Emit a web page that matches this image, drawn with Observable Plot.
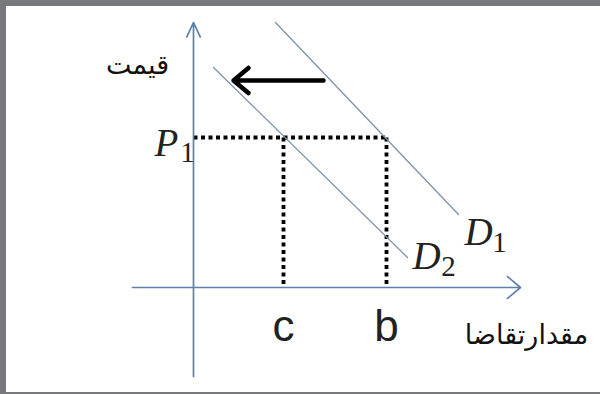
<!DOCTYPE html>
<html><head><meta charset="utf-8">
<script src="https://cdn.jsdelivr.net/npm/d3@7"></script>
<script src="https://cdn.jsdelivr.net/npm/@observablehq/plot@0.6"></script>
<style>
body{margin:0;background:#fff}
#chart{position:relative;width:600px;height:394px}
#chart svg{display:block}
#chart::after{content:"";position:absolute;left:0;top:0;right:0;bottom:0;border-top:6px solid #78797d;border-left:6px solid #78797d;border-bottom:2px solid #78797d;pointer-events:none}
</style></head><body><div id="chart"></div>
<script>
// Conceptual units: quantity (x) and price (y), origin at the axes crossing
const priceP1 = 15;
const quantityC = 9.0;
const quantityB = 19.3;
const demandD1 = [{q: 8.2, p: 26.5}, {q: 26.5, p: 7.3}];
const demandD2 = [{q: 2.0, p: 22.0}, {q: 21.4, p: 3.0}];
const shiftArrow = [{q1: 13.0, q2: 4.0, p: 20.7}];
const xAxisSpan = [-6.1, 32.7];
const yAxisSpan = [-8.9, 26.5];
const priceTitle = "قیمت";
const quantityTitle = "مقدارتقاضا";
const tickLabels = [{q: quantityC, label: "c"}, {q: quantityB, label: "b"}];
const curveLabels = [
  {q: -2.7, p: 13.2, main: "P", sq: -0.6, sp: 12.6, sub: "1"},
  {q: 28.5, p: 4.3, main: "D", sq: 30.6, sp: 3.6, sub: "1"},
  {q: 23.3, p: 1.9, main: "D", sq: 25.5, sp: 1.2, sub: "2"}
];

const axisColor = "#5b80ad";
const curveColor = "#7f93a8";

const dotted = [
  {q1: 0, p1: priceP1, q2: quantityB, p2: priceP1},
  {q1: quantityC, p1: priceP1, q2: quantityC, p2: 0},
  {q1: quantityB, p1: priceP1, q2: quantityB, p2: 0}
];

const plot = Plot.plot({
  width: 600,
  height: 394,
  margin: 0,
  x: {domain: [-19.3, 40.7], range: [0, 600], axis: null},
  y: {domain: [-10.7, 28.7], range: [394, 0], axis: null},
  style: {background: "#fff"},
  marks: [
    Plot.link(dotted, {x1: "q1", y1: "p1", x2: "q2", y2: "p2", stroke: "#000", strokeWidth: 3.8, strokeDasharray: "4,3.5", strokeLinecap: "butt"}),
    Plot.line(demandD1, {x: "q", y: "p", stroke: curveColor, strokeWidth: 1.3}),
    Plot.line(demandD2, {x: "q", y: "p", stroke: curveColor, strokeWidth: 1.3}),
    Plot.arrow([0], {x1: xAxisSpan[0], x2: xAxisSpan[1], y1: 0, y2: 0, stroke: axisColor, strokeWidth: 1.7, headLength: 15, headAngle: 80}),
    Plot.arrow([0], {x1: 0, x2: 0, y1: yAxisSpan[0], y2: yAxisSpan[1], stroke: axisColor, strokeWidth: 1.7, headLength: 14, headAngle: 50}),
    Plot.arrow(shiftArrow, {x1: "q1", x2: "q2", y1: "p", y2: "p", stroke: "#000", strokeWidth: 4.5, headLength: 6.5, headAngle: 80}),
    Plot.text(tickLabels, {x: "q", y: -5.3, text: "label", fontSize: 44, fontFamily: "Liberation Sans", fill: "#222", lineAnchor: "bottom", ariaLabel: "narrow"}),
    Plot.text(curveLabels, {x: "q", y: "p", text: "main", fontSize: 39, fontFamily: "Liberation Serif", fontStyle: "italic", fill: "#222", lineAnchor: "bottom", ariaLabel: "narrow"}),
    Plot.text(curveLabels, {x: "sq", y: "sp", text: "sub", fontSize: 29, fontFamily: "Liberation Serif", fill: "#222", lineAnchor: "bottom", ariaLabel: "narrow"}),
    Plot.text([priceTitle], {x: -5.6, y: 22.2, text: d => d, fontSize: 27, fontFamily: "DejaVu Sans", fill: "#111", lineAnchor: "middle", ariaLabel: "arabic"}),
    Plot.text([quantityTitle], {x: 33.3, y: -4.8, text: d => d, fontSize: 27, fontFamily: "DejaVu Sans", fill: "#111", lineAnchor: "middle", ariaLabel: "arabic"})
  ]
});
document.getElementById("chart").appendChild(plot);
function squeeze(selector, sx) {
  plot.querySelectorAll(selector).forEach(t => {
    const tr = t.getAttribute("transform");
    if (tr) t.setAttribute("transform", tr + ` scale(${sx},1)`);
    else {
      const x = +t.getAttribute("x") || 0, y = +t.getAttribute("y") || 0;
      t.removeAttribute("x"); t.removeAttribute("y");
      t.setAttribute("transform", `translate(${x},${y}) scale(${sx},1)`);
    }
  });
}
squeeze('g[aria-label="narrow"] text', 0.75);
squeeze('g[aria-label="arabic"] text', 0.82);
</script></body></html>
